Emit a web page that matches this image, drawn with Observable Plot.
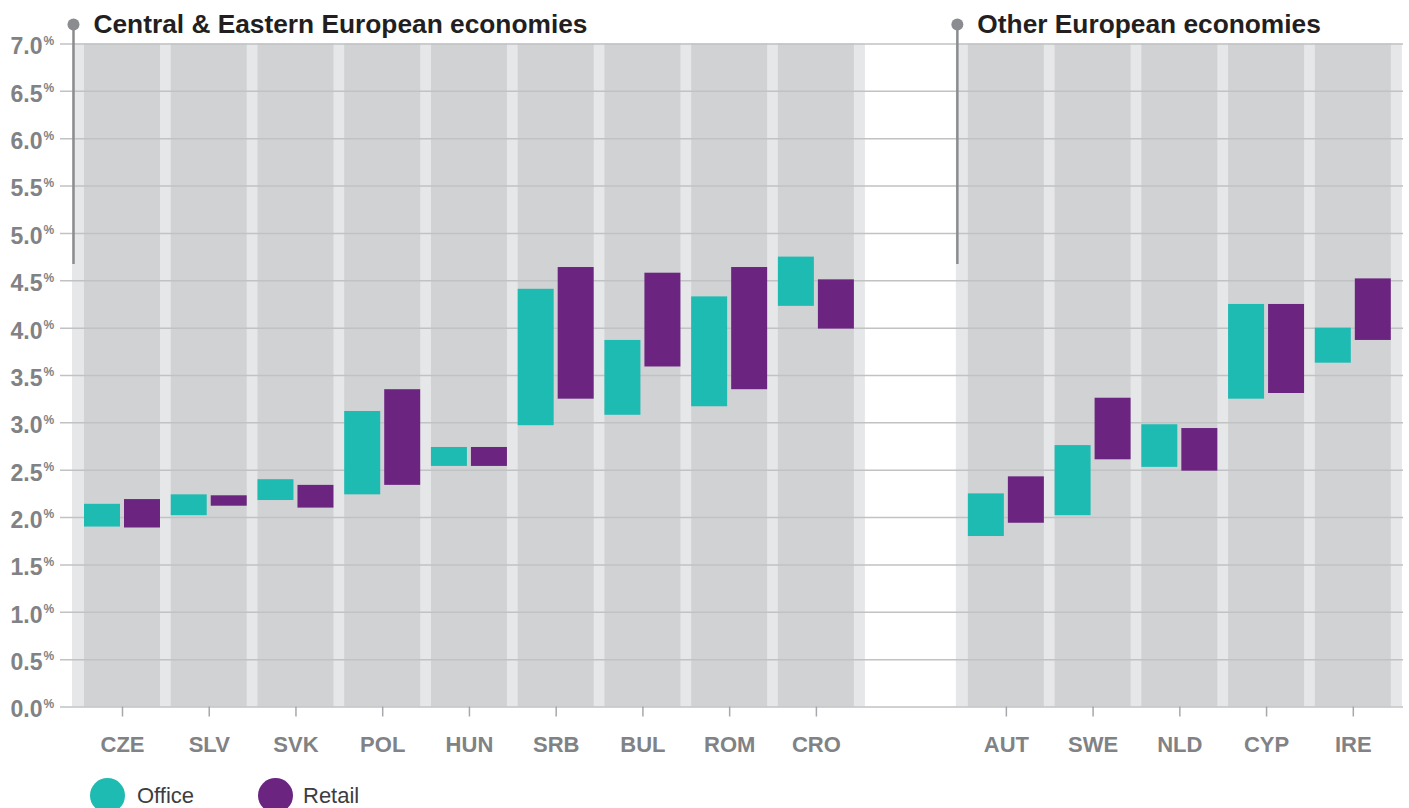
<!DOCTYPE html>
<html>
<head>
<meta charset="utf-8">
<script src="https://cdn.jsdelivr.net/npm/d3@7"></script>
<script src="https://cdn.jsdelivr.net/npm/@observablehq/plot@0.6"></script>
<style>
  html, body { margin: 0; padding: 0; background: #ffffff; overflow: hidden; }
  #chart svg { display: block; }
  .legend { position: relative; height: 38px; overflow: visible; font-family: "Liberation Sans", Arial, sans-serif; }
  .legend .sw { position: absolute; top: 8px; width: 35px; height: 35px; border-radius: 50%; }
  .legend .lb { position: absolute; top: 8px; height: 35px; line-height: 35px; font-size: 22px; color: #3d3d3f; }
</style>
</head>
<body>
<div id="chart"></div>
<div class="legend" id="legend"></div>
<script>
// ---------------- data ----------------
const ceeTitle = "Central & Eastern European economies";
const otherTitle = "Other European economies";

const ceeCountries   = ["CZE", "SLV", "SVK", "POL", "HUN", "SRB", "BUL", "ROM", "CRO"];
const ceeOfficeLow   = [1.90, 2.02, 2.18, 2.24, 2.54, 2.97, 3.08, 3.17, 4.23];
const ceeOfficeHigh  = [2.14, 2.24, 2.40, 3.12, 2.74, 4.41, 3.87, 4.33, 4.75];
const ceeRetailLow   = [1.89, 2.12, 2.10, 2.34, 2.54, 3.25, 3.59, 3.35, 3.99];
const ceeRetailHigh  = [2.19, 2.23, 2.34, 3.35, 2.74, 4.64, 4.58, 4.64, 4.51];

const otherCountries  = ["AUT", "SWE", "NLD", "CYP", "IRE"];
const otherOfficeLow  = [1.80, 2.02, 2.53, 3.25, 3.63];
const otherOfficeHigh = [2.25, 2.76, 2.98, 4.25, 4.00];
const otherRetailLow  = [1.94, 2.61, 2.49, 3.31, 3.87];
const otherRetailHigh = [2.43, 3.26, 2.94, 4.25, 4.52];

const yTicks = [0, 0.5, 1, 1.5, 2, 2.5, 3, 3.5, 4, 4.5, 5, 5.5, 6, 6.5, 7];
const seriesNames = ["Office", "Retail"];

// ---------------- styles ----------------
const teal = "#1ebbb3", purple = "#6b2581";
const lightBg = "#e6e7e8", darkBg = "#d1d2d4", gridColor = "#c1c2c4", axisGray = "#808285", markerGray = "#8b8c8f";
const font = "'Liberation Sans', Arial, sans-serif";

const spacer = " ";
const xDomain = [...ceeCountries, spacer, ...otherCountries];
const yMin = yTicks[0], yMax = yTicks[yTicks.length - 1];

const panels = [
  {title: ceeTitle, cats: ceeCountries, oLo: ceeOfficeLow, oHi: ceeOfficeHigh, rLo: ceeRetailLow, rHi: ceeRetailHigh, dx: 0},
  {title: otherTitle, cats: otherCountries, oLo: otherOfficeLow, oHi: otherOfficeHigh, rLo: otherRetailLow, rHi: otherRetailHigh, dx: 16.5}
];
panels.forEach(p => {
  p.rows = p.cats.map((c, i) => ({country: c, officeLow: p.oLo[i], officeHigh: p.oHi[i], retailLow: p.rLo[i], retailHigh: p.rHi[i]}));
});

const marks = [];
// light panel backgrounds
panels.forEach(p => marks.push(Plot.barY(p.cats, {x: d => d, y1: yMin, y2: yMax, fill: lightBg, insetLeft: -12, insetRight: -11, dx: p.dx})));
// darker columns
panels.forEach(p => marks.push(Plot.barY(p.cats, {x: d => d, y1: yMin, y2: yMax, fill: darkBg, dx: p.dx})));
// gridlines
marks.push(Plot.ruleY(yTicks, {stroke: gridColor, strokeWidth: 1.5}));
// range bars
panels.forEach(p => {
  marks.push(Plot.barY(p.rows, {x: "country", y1: "officeLow", y2: "officeHigh", fill: teal, insetRight: 40, dx: p.dx}));
  marks.push(Plot.barY(p.rows, {x: "country", y1: "retailLow", y2: "retailHigh", fill: purple, insetLeft: 40, dx: p.dx}));
});
// x axes per panel
panels.forEach(p => marks.push(Plot.axisX({
  ticks: p.cats, tickSize: 10, tickPadding: 19, stroke: "#a7a8ab", strokeWidth: 1.5,
  fill: axisGray, fontSize: 22, fontWeight: "bold", dx: p.dx, label: null
})));
// y axis
marks.push(Plot.axisY({
  ticks: yTicks, tickSize: 0, tickPadding: 18, tickFormat: d3.format(".1f"),
  fill: axisGray, fontSize: 23, fontWeight: "bold", dy: 3, label: null
}));
marks.push(Plot.text(yTicks, {y: d => d, text: () => "%", frameAnchor: "left", dx: -17, dy: -3, textAnchor: "start", fontSize: 12, fontWeight: "bold", fill: axisGray}));
// panel titles and markers
panels.forEach(p => {
  marks.push(Plot.ruleX([p.cats[0]], {x: d => d, dx: -49 + p.dx, insetTop: -19.5, insetBottom: 442.5, stroke: markerGray, strokeWidth: 2.5}));
  marks.push(Plot.dot([p.cats[0]], {x: d => d, frameAnchor: "top", dx: -49 + p.dx, dy: -19.5, r: 6, fill: markerGray, stroke: "none"}));
  marks.push(Plot.text([p.cats[0]], {x: d => d, text: () => p.title, frameAnchor: "top", textAnchor: "start", lineAnchor: "bottom", dx: -29 + p.dx, dy: -11.2, fontSize: 26.3, fontWeight: "bold", fill: "#231f20"}));
});

const chart = Plot.plot({
  width: 1409,
  height: 770,
  marginTop: 43.5,
  marginBottom: 63.5,
  marginLeft: 60,
  marginRight: 6,
  style: {fontFamily: font, background: "#ffffff", overflow: "visible"},
  x: {domain: xDomain, paddingInner: 0.1239, paddingOuter: 0, insetLeft: 24, insetRight: 28.7, round: false, label: null},
  y: {domain: [yMin, yMax], label: null},
  marks
});
document.getElementById("chart").appendChild(chart);

// legend
const legend = document.getElementById("legend");
const legendColors = [teal, purple];
const swLeft = [90, 258], lbLeft = [137, 303];
seriesNames.forEach((name, i) => {
  const sw = document.createElement("div");
  sw.className = "sw"; sw.style.left = swLeft[i] + "px"; sw.style.background = legendColors[i];
  const lb = document.createElement("div");
  lb.className = "lb"; lb.style.left = lbLeft[i] + "px"; lb.textContent = name;
  legend.appendChild(sw); legend.appendChild(lb);
});
</script>
</body>
</html>
